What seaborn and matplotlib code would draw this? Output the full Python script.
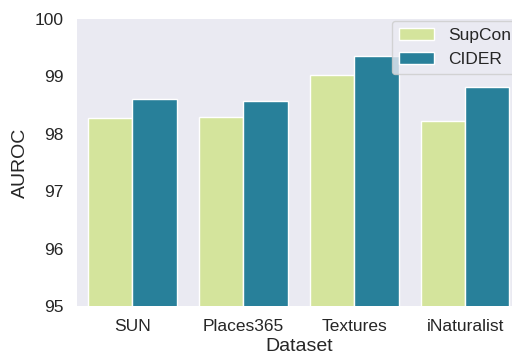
import matplotlib
matplotlib.use("Agg")
import matplotlib.pyplot as plt
import seaborn as sns
import pandas as pd

datasets = ["SUN", "Places365", "Textures", "iNaturalist"]
methods = ["SupCon", "CIDER"]
supcon_auroc = [98.27, 98.29, 99.03, 98.22]
cider_auroc = [98.61, 98.58, 99.35, 98.82]
method_colors = ["#d4e49c", "#28809a"]
yticks = [95, 96, 97, 98, 99, 100]

df = pd.DataFrame({
    "Dataset": datasets * 2,
    "AUROC": supcon_auroc + cider_auroc,
    "Method": [methods[0]] * len(datasets) + [methods[1]] * len(datasets),
})

sns.set_theme(style="dark", font_scale=1.14)
plt.rcParams["font.family"] = ["Liberation Sans", "DejaVu Sans"]

fig = plt.figure(figsize=(5.12, 3.56), dpi=100)
ax = fig.add_axes([77 / 512, 1 - 306 / 356, (520.5 - 77) / 512, (306 - 19) / 356])

sns.barplot(data=df, x="Dataset", y="AUROC", hue="Method",
            palette=method_colors, saturation=1, edgecolor="white",
            linewidth=1, ax=ax)

ax.set_ylim(95, 100)
ax.set_yticks(yticks)
ax.set_xlabel("Dataset", fontsize=14, labelpad=3)
ax.set_ylabel("AUROC", fontsize=14)
for s in ax.spines.values():
    s.set_visible(False)

leg = ax.legend(loc="upper left", bbox_to_anchor=(392 / 512, 1 - 21 / 356),
                bbox_transform=fig.transFigure, borderaxespad=0, title=None)

fig.savefig("out.png", dpi=100)
